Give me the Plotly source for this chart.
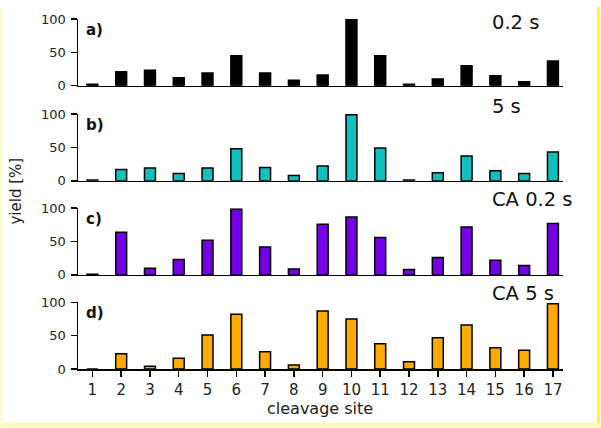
import plotly.graph_objects as go
from plotly.subplots import make_subplots

sites = list(range(1, 18))
tick_labels = [str(s) for s in sites]
yield_02s = [2, 21, 23, 12, 19, 45, 19, 8, 16, 100, 45, 2, 10, 30, 15, 6, 37]
yield_5s = [1, 17, 19, 11, 19, 48, 20, 8, 22, 99, 49, 1, 12, 37, 15, 11, 43]
yield_ca02s = [1, 64, 10, 23, 52, 99, 42, 9, 76, 87, 56, 8, 26, 72, 22, 14, 77]
yield_ca5s = [0, 23, 4, 16, 51, 82, 26, 6, 87, 75, 38, 11, 47, 66, 32, 28, 98]

series = [yield_02s, yield_5s, yield_ca02s, yield_ca5s]
colors = ["#000000", "#12BFBF", "#7300E6", "#FFAA00"]
conditions = ["0.2 s", "5 s", "CA 0.2 s", "CA 5 s"]
letters = ["a)", "b)", "c)", "d)"]

W, H = 601, 428
ML, MR, MT, MB = 78, 38, 12, 59
PW = W - ML - MR
PH = H - MT - MB

def px_x(p):
    return (p - ML) / PW

def px_y(p):
    return (H - MB - p) / PH

panel_px = [(12, 80), (109, 177), (205, 273), (301, 369)]
label_y = [16, 101, 196, 292]

fig = make_subplots(rows=4, cols=1)
FONT = "DejaVu Sans"

for i, vals in enumerate(series):
    r = i + 1
    fig.add_trace(go.Bar(x=sites, y=vals, width=0.38,
                         marker=dict(color=colors[i], line=dict(color="black", width=1.5)),
                         showlegend=False, hoverinfo="skip"), row=r, col=1)
    top, bot = panel_px[i]
    yname = "yaxis" if r == 1 else f"yaxis{r}"
    xname = "xaxis" if r == 1 else f"xaxis{r}"
    fig.layout[yname].update(domain=[px_y(bot), px_y(top)], range=[0, 100], tickvals=[0, 50, 100],
                             ticks="outside", ticklen=6, tickwidth=1.5, tickcolor="black",
                             showline=True, linecolor="black", linewidth=1.5, showgrid=False, zeroline=False,
                             tickfont=dict(family=FONT, size=13, color="#222"), ticklabelstandoff=2)
    is_last = (r == 4)
    fig.layout[xname].update(range=[0.5, 17.35], showline=True, linecolor="black", linewidth=1.5,
                             showgrid=False, zeroline=False,
                             tickvals=sites, ticktext=tick_labels, showticklabels=is_last,
                             ticks="outside" if is_last else "", ticklen=6, tickwidth=1.5, tickcolor="black",
                             tickfont=dict(family=FONT, size=15, color="#222"))
    fig.add_annotation(xref="paper", yref="paper", x=px_x(490), y=px_y(label_y[i]),
                       text=conditions[i], showarrow=False, xanchor="left", yanchor="middle",
                       font=dict(family=FONT, size=19.5, color="#111"))
    fig.add_annotation(xref="paper", yref="paper", x=px_x(84), y=px_y(top + 11),
                       text="<b>" + letters[i] + "</b>", showarrow=False, xanchor="left", yanchor="middle",
                       font=dict(family=FONT, size=15, color="#111"))

fig.add_annotation(xref="paper", yref="paper", x=px_x(320), y=px_y(409),
                   text="cleavage site", showarrow=False, xanchor="center", yanchor="middle",
                   font=dict(family=FONT, size=16, color="#222"))
fig.add_annotation(xref="paper", yref="paper", x=px_x(16), y=px_y(188),
                   text="yield [%]", showarrow=False, textangle=-90, xanchor="center", yanchor="middle",
                   font=dict(family=FONT, size=15, color="#222"))

# yellow page border
fig.add_shape(type="line", xref="paper", yref="paper", x0=px_x(598.5), x1=px_x(598.5), y0=px_y(0), y1=px_y(428),
              line=dict(color="#FFFF00", width=3))
fig.add_shape(type="line", xref="paper", yref="paper", x0=px_x(0), x1=px_x(601), y0=px_y(426), y1=px_y(426),
              line=dict(color="#FFFFA8", width=4))
fig.add_shape(type="line", xref="paper", yref="paper", x0=px_x(1), x1=px_x(1), y0=px_y(0), y1=px_y(428),
              line=dict(color="#FFFFC8", width=2))

fig.update_layout(width=W, height=H, margin=dict(l=ML, r=MR, t=MT, b=MB),
                  plot_bgcolor="white", paper_bgcolor="white", bargap=0.6, hovermode=False)

fig.write_html("out.html", config={"displayModeBar": False, "staticPlot": True},
               post_script="document.body.style.margin='0px';document.body.style.overflow='hidden';")
